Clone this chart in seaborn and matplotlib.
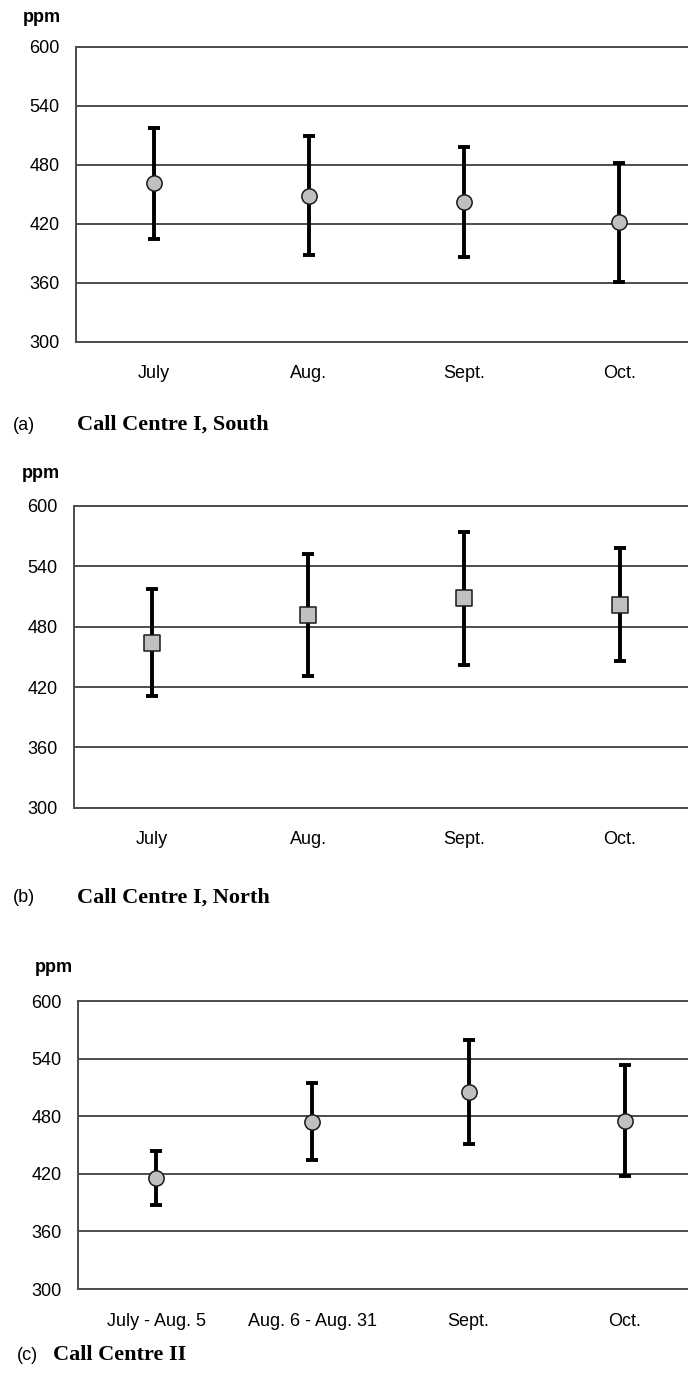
import numpy as np
import matplotlib
matplotlib.use("Agg")
import matplotlib.pyplot as plt
import seaborn as sns

# category labels
months = ['July', 'Aug.', 'Sept.', 'Oct.']
periods_c = ['July - Aug. 5', 'Aug. 6 - Aug. 31', 'Sept.', 'Oct.']

# (a) Call Centre I, South
a_mean = [461, 448, 442, 422]
a_low = [404, 388, 386, 361]
a_high = [517, 509, 498, 482]

# (b) Call Centre I, North
b_mean = [464, 492, 509, 502]
b_low = [411, 431, 442, 446]
b_high = [517, 552, 574, 558]

# (c) Call Centre II
c_mean = [416, 474, 505, 475]
c_low = [388, 434, 451, 418]
c_high = [444, 515, 559, 533]

yticks = [300, 360, 420, 480, 540, 600]

sns.set_style("white")
plt.rcParams['font.family'] = ['Liberation Sans', 'DejaVu Sans']
plt.rcParams['text.color'] = 'black'

W, H = 688, 1373
fig = plt.figure(figsize=(W / 100, H / 100), dpi=100)

grid_col = '#4d4d4d'


def panel(box, labels, mean, low, high, marker, msize, ppm_xy, tag, tag_x, cap_x, cap_y, caption):
    left, top, right, bottom = box
    ax = fig.add_axes([left / W, 1 - bottom / H, (right - left) / W, (bottom - top) / H])
    mean = np.array(mean)
    yerr = [mean - np.array(low), np.array(high) - mean]
    ax.errorbar(labels, mean, yerr=yerr, fmt='none', ecolor='black',
                elinewidth=2.8, capsize=4.5, capthick=2.8, zorder=3)
    sns.scatterplot(x=labels, y=mean, marker=marker, s=msize ** 2, color='#c0c0c0',
                    edgecolor='#1a1a1a', linewidth=1.1, zorder=4, ax=ax, legend=False)
    ax.set_xlim(-0.5, 3.5)
    ax.set_ylim(300, 600)
    ax.set_yticks(yticks)
    ax.set_xticks(range(len(labels)))
    ax.set_xticklabels(labels)
    ax.set_xticks(np.arange(-0.5, 4, 1), minor=True)
    ax.tick_params(axis='x', which='major', length=0, pad=17, labelsize=13, labelcolor='black')
    ax.tick_params(axis='x', which='minor', length=6, width=1.2, color=grid_col, direction='out')
    ax.tick_params(axis='y', length=7, width=1.2, color=grid_col, direction='out', pad=5,
                   labelsize=13, labelcolor='black')
    ax.yaxis.grid(True, color=grid_col, linewidth=1.4)
    ax.set_axisbelow(True)
    for s in ['left', 'bottom', 'top']:
        ax.spines[s].set_color(grid_col)
        ax.spines[s].set_linewidth(1.4)
    ax.spines['right'].set_visible(False)
    ax.set_xlabel('')
    ax.set_ylabel('')
    fig.text(ppm_xy[0] / W, 1 - ppm_xy[1] / H, 'ppm', fontsize=13, fontweight='bold',
             ha='left', va='center')
    fig.text(tag_x / W, 1 - cap_y / H, tag, fontsize=13, ha='left', va='center')
    fig.text(cap_x / W, 1 - cap_y / H, caption, fontsize=16, fontweight='bold',
             family=['Liberation Serif', 'DejaVu Serif'], ha='left', va='center')
    return ax


panel((76, 46.7, 697, 341.7), months, a_mean, a_low, a_high, 'o', 11,
      (23, 17), '(a)', 13, 77, 425, 'Call Centre I, South')
panel((74, 506, 698, 807.7), months, b_mean, b_low, b_high, 's', 11.5,
      (22, 473), '(b)', 13, 77, 898, 'Call Centre I, North')
panel((78, 1001, 703, 1289), periods_c, c_mean, c_low, c_high, 'o', 11,
      (35, 968), '(c)', 17, 53, 1355, 'Call Centre II')

fig.savefig('out.png', dpi=100)
